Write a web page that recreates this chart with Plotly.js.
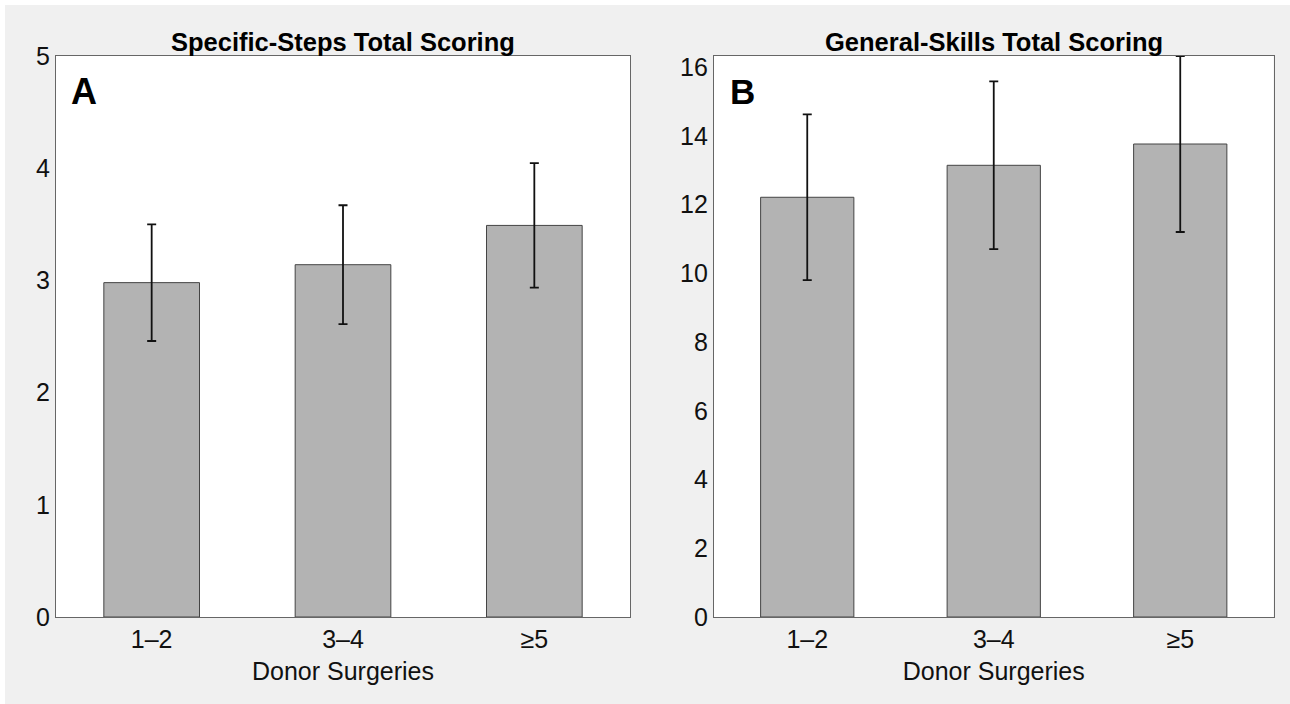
<!DOCTYPE html>
<html>
<head>
<meta charset="utf-8">
<script src="https://cdn.plot.ly/plotly-3.0.1.min.js"></script>
<style>html,body{margin:0;padding:0;background:#fff;}#chart{width:1290px;height:704px;}</style>
</head>
<body>
<div id="chart"></div>
<script>
const categories = ['1–2', '3–4', '≥5'];
const stepsMean = [2.98, 3.14, 3.49];
const stepsSD = [0.52, 0.53, 0.555];
const skillsMean = [12.21, 13.14, 13.76];
const skillsSD = [2.41, 2.44, 2.56];
const titleA = 'Specific-Steps Total Scoring';
const titleB = 'General-Skills Total Scoring';
const xTitle = 'Donor Surgeries';

const FONT = '"Liberation Sans", Arial, Helvetica, sans-serif';
const W = 1290, H = 704;
const px = v => v / W;
const py = v => 1 - v / H;

function barTrace(y, err, xa, ya) {
  return {
    type: 'bar', x: categories, y: y, xaxis: xa, yaxis: ya,
    width: 0.5,
    marker: {color: '#b3b3b3', line: {color: '#444444', width: 1}},
    error_y: {type: 'data', array: err, visible: true, color: '#111111', thickness: 1.8, width: 4.5},
    hoverinfo: 'x+y', showlegend: false
  };
}

const data = [
  barTrace(stepsMean, stepsSD, 'x', 'y'),
  barTrace(skillsMean, skillsSD, 'x2', 'y2')
];

const tickFont = {family: FONT, size: 25, color: '#111'};
const titleFont = {family: FONT, size: 25, color: '#111'};
function xAxis(domain, anchor) {
  return {
    domain: domain, anchor: anchor, type: 'category',
    showline: true, mirror: true, linecolor: '#666', linewidth: 1.2,
    showgrid: false, zeroline: false, ticks: '', tickfont: tickFont,
    title: {text: xTitle, font: titleFont, standoff: 10},
    fixedrange: true
  };
}
function yAxis(domain, anchor, range, dtick) {
  return {
    domain: domain, anchor: anchor, range: range, dtick: dtick,
    showline: true, mirror: true, linecolor: '#666', linewidth: 1.2,
    showgrid: false, zeroline: false, ticks: '', tickfont: tickFont,
    fixedrange: true
  };
}

const layout = {
  width: W, height: H,
  margin: {l: 0, r: 0, t: 0, b: 0},
  paper_bgcolor: '#f0f0f0', plot_bgcolor: '#ffffff',
  xaxis: xAxis([px(56), px(630)], 'y'),
  yaxis: yAxis([py(617), py(56)], 'x', [0, 5], 1),
  xaxis2: xAxis([px(714), px(1273.5)], 'y2'),
  yaxis2: yAxis([py(617), py(56)], 'x2', [0, 16.32], 2),
  shapes: [
    {type: 'rect', xref: 'paper', yref: 'paper', x0: 0, x1: 1, y0: py(5), y1: 1, fillcolor: '#ffffff', line: {width: 0}, layer: 'below'},
    {type: 'rect', xref: 'paper', yref: 'paper', x0: 0, x1: px(5), y0: 0, y1: 1, fillcolor: '#ffffff', line: {width: 0}, layer: 'below'}
  ],
  annotations: [
    {text: '<b>' + titleA + '</b>', xref: 'paper', yref: 'paper', x: px(343), y: py(42), xanchor: 'center', yanchor: 'middle', showarrow: false, font: {family: FONT, size: 25.5, color: '#000'}},
    {text: '<b>' + titleB + '</b>', xref: 'paper', yref: 'paper', x: px(993.5), y: py(42), xanchor: 'center', yanchor: 'middle', showarrow: false, font: {family: FONT, size: 25.5, color: '#000'}},
    {text: '<b>A</b>', xref: 'paper', yref: 'paper', x: px(84), y: py(92), xanchor: 'center', yanchor: 'middle', showarrow: false, font: {family: FONT, size: 36, color: '#000'}},
    {text: '<b>B</b>', xref: 'paper', yref: 'paper', x: px(742), y: py(92), xanchor: 'center', yanchor: 'middle', showarrow: false, font: {family: FONT, size: 35, color: '#000'}}
  ]
};

Plotly.newPlot('chart', data, layout, {displayModeBar: false, staticPlot: true});
</script>
</body>
</html>
